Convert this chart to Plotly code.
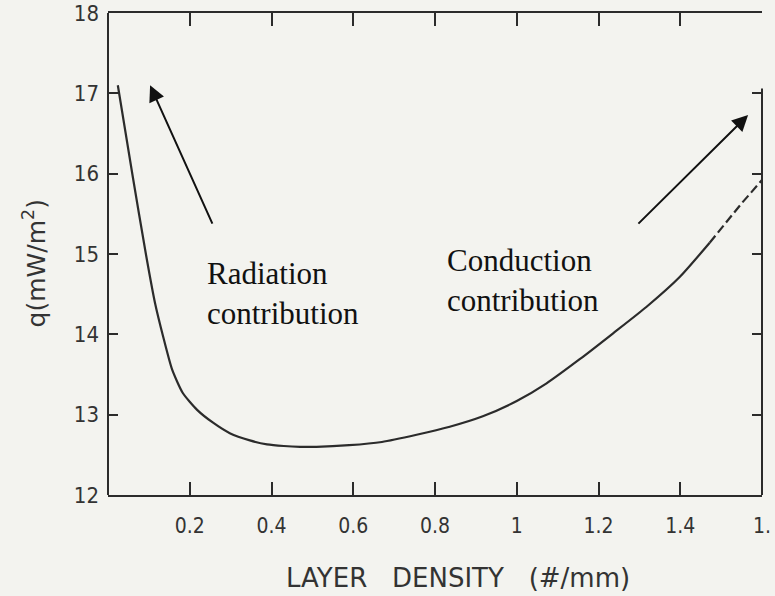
import plotly.graph_objects as go

# Solid part of the curve
x_solid = [0.024, 0.060, 0.093, 0.115, 0.135, 0.157, 0.183, 0.218, 0.257, 0.298, 0.347,
           0.389, 0.43, 0.47, 0.51, 0.59, 0.67, 0.755, 0.836, 0.917, 1.0, 1.073,
           1.154, 1.235, 1.317, 1.398, 1.472]
y_solid = [17.10, 15.98, 14.99, 14.39, 13.97, 13.56, 13.27, 13.06, 12.90, 12.77, 12.68,
           12.63, 12.61, 12.60, 12.60, 12.62, 12.66, 12.75, 12.85, 12.98, 13.17, 13.39,
           13.69, 14.01, 14.34, 14.71, 15.14]
# Dashed (extrapolated) end
x_dash = [1.472, 1.51, 1.55, 1.6]
y_dash = [15.14, 15.38, 15.63, 15.92]

x_tickvals = [0.2, 0.4, 0.6, 0.8, 1.0, 1.2, 1.4, 1.6]
x_ticktext = ["0.2", "0.4", "0.6", "0.8", "1", "1.2", "1.4", "1."]
y_tickvals = [12, 13, 14, 15, 16, 17, 18]

# arrows: (tail_x, tail_y, head_x, head_y)
arrow_rad = (0.257, 15.36, 0.103, 17.10)
arrow_cond = (1.294, 15.36, 1.566, 16.73)

BG = "#f3f3ef"
INK = "#2b2b2b"
COND = "DejaVu Sans Condensed, DejaVu Sans, sans-serif"

fig = go.Figure()
fig.add_trace(go.Scatter(x=x_solid, y=y_solid, mode="lines",
                         line=dict(color=INK, width=2.2, shape="spline", smoothing=0.6),
                         showlegend=False, hoverinfo="skip"))
fig.add_trace(go.Scatter(x=x_dash, y=y_dash, mode="lines",
                         line=dict(color=INK, width=2.2, dash="9px,4px"),
                         showlegend=False, hoverinfo="skip"))

fig.update_layout(
    width=775, height=596,
    margin=dict(l=108, r=13, t=13, b=101, autoexpand=False),
    paper_bgcolor=BG, plot_bgcolor=BG,
    xaxis=dict(range=[0, 1.6], tickvals=x_tickvals, ticktext=x_ticktext, automargin=False,
               showgrid=False, zeroline=False, showline=True, linecolor=INK, linewidth=2,
               mirror="ticks", ticks="inside", ticklen=13, tickwidth=1.5, tickcolor=INK,
               tickfont=dict(family=COND, size=21, color="#333"),
               ticklabelstandoff=11),
    yaxis=dict(range=[12, 18], tickvals=y_tickvals, automargin=False,
               showgrid=False, zeroline=False, showline=False,
               mirror="ticks", ticks="inside", ticklen=10, tickwidth=1.5, tickcolor=INK,
               tickfont=dict(family=COND, size=22, color="#333"), ticklabelstandoff=8),
)

# left axis line (full) and right axis line (partial, as in the scan)
fig.add_shape(type="line", xref="paper", yref="y", x0=0, x1=0, y0=12, y1=18,
              line=dict(color=INK, width=2))
fig.add_shape(type="line", xref="paper", yref="y", x0=1, x1=1, y0=12, y1=17.06,
              line=dict(color=INK, width=2))

# axis titles
fig.add_annotation(xref="paper", yref="paper", x=-0.112, y=0.48, xanchor="center", yanchor="middle",
                   text="q(mW/m<sup>2</sup>)", textangle=-90, showarrow=False,
                   font=dict(family="DejaVu Sans, sans-serif", size=25, color="#333"))
fig.add_annotation(xref="paper", yref="paper", x=0.535, y=-0.172, xanchor="center", yanchor="middle",
                   text="LAYER   DENSITY   (#/mm)", showarrow=False,
                   font=dict(family="DejaVu Sans, sans-serif", size=26, color="#333"))

# text labels
serif = dict(family="Liberation Serif, Times New Roman, serif", size=31, color="#111")
fig.add_annotation(xref="paper", yref="paper", x=0.148, y=0.419, xanchor="left", yanchor="middle",
                   align="left", text="Radiation<br>contribution", showarrow=False, font=serif)
fig.add_annotation(xref="paper", yref="paper", x=0.515, y=0.446, xanchor="left", yanchor="middle",
                   align="left", text="Conduction<br>contribution", showarrow=False, font=serif)

for tx, ty, hx, hy in (arrow_rad, arrow_cond):
    fig.add_annotation(x=hx, y=hy, ax=tx, ay=ty, xref="x", yref="y", axref="x", ayref="y",
                       text="", showarrow=True, arrowhead=2, arrowsize=1.6, arrowwidth=2,
                       arrowcolor="#111")

fig.write_html("out.html", config={"displayModeBar": False},
               post_script="document.body.style.margin='0';")
